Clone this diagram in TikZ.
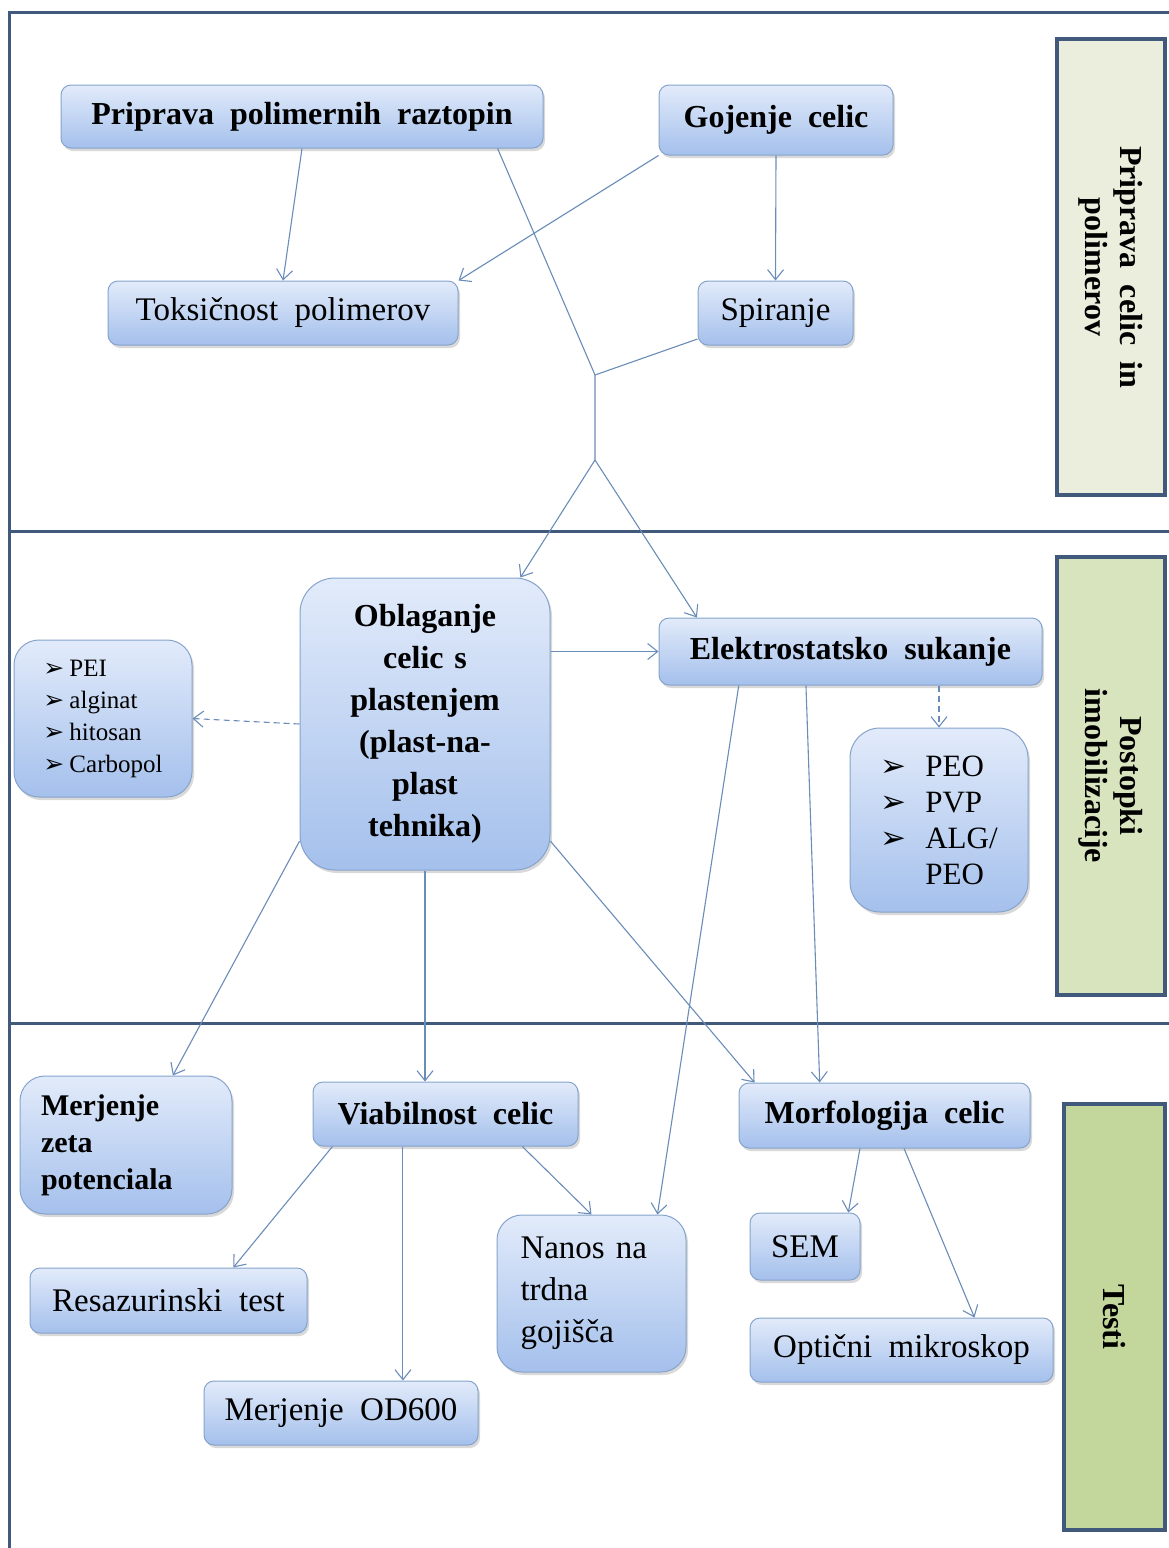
\documentclass[tikz,border=0pt]{standalone}
\usepackage{fontspec}
\setmainfont{Liberation Serif}
\newfontfamily\arrowfont{DejaVu Sans}
\usetikzlibrary{arrows.meta,calc,shadows}
\definecolor{frameblue}{HTML}{41597A}
\definecolor{linkblue}{HTML}{6A8CB8}
\definecolor{boxedge}{HTML}{86A3CB}
\definecolor{boxtop}{HTML}{E2EBFA}
\definecolor{boxbottom}{HTML}{A4C0EC}
\definecolor{bandA}{HTML}{EBEEDD}
\definecolor{bandB}{HTML}{D8E4BE}
\definecolor{bandC}{HTML}{C3D69B}
\newcommand{\nodefs}[2]{\fontsize{#1}{#2}\selectfont\spaceskip=.5em plus .1em\relax}
\newcommand{\bul}[1]{\makebox[#1][l]{\arrowfont ➢}}
\tikzset{
  plainbox/.style={draw=boxedge,line width=1pt,rounded corners=10pt,top color=boxtop,bottom color=boxbottom,
                   drop shadow={shadow xshift=2pt,shadow yshift=-3pt,opacity=.3},font=\nodefs{33}{42}},
  headbox/.style={plainbox,font=\nodefs{32}{42}\bfseries},
  listbox/.style={plainbox,align=left,rounded corners=25pt},
  band/.style={draw=frameblue,line width=4pt,rotate=-90,align=center,inner sep=0pt,
               font=\nodefs{32}{35}\bfseries},
  frame/.style={draw=frameblue,line width=3pt},
  link/.style={draw=linkblue,line width=1.1pt},
  arrow/.style={link,-{Straight Barb[length=10pt,width=16pt]}},
  dasharrow/.style={arrow,dash pattern=on 6pt off 4pt}
}
\begin{document}
\begin{tikzpicture}[x=1pt,y=-1pt]
\useasboundingbox (0,0) rectangle (1169,1548);
\draw[frame] (1169,12) -- (9,12) -- (9,1548);
\draw[frame] (9,531) -- (1169,531);
\draw[frame] (9,1023) -- (1169,1023);

\node[band,fill=bandA,minimum width=456pt,minimum height=108pt] (bandprep) at (1111,267) {Priprava celic in\\polimerov};
\node[band,fill=bandB,minimum width=438pt,minimum height=108pt] (bandimob) at (1111,776) {Postopki\\imobilizacije};
\node[band,fill=bandC,minimum width=426pt,minimum height=101pt] (bandtest) at (1114.5,1317) {Testi};

\node[headbox,minimum width=482pt,minimum height=63pt] (prip) at (302,116.5) {Priprava polimernih raztopin};
\node[headbox,minimum width=234pt,minimum height=70pt] (goj) at (776,120) {Gojenje celic};
\node[plainbox,minimum width=350pt,minimum height=64pt] (tox) at (283,313) {Toksičnost polimerov};
\node[plainbox,minimum width=155pt,minimum height=64pt] (spir) at (775.5,313) {Spiranje};
\coordinate (fork) at (595,375);
\coordinate (split) at (595,460);

\node[headbox,rounded corners=35pt,minimum width=250pt,minimum height=292pt,text width=228pt,align=center] (obl) at (425,724)
  {Oblaganje\\celic s\\plastenjem\\(plast-na-\\plast\\tehnika)};
\node[listbox,minimum width=178pt,minimum height=157pt,font=\nodefs{25}{32}] (polyA) at (103,718.5)
  {\bul{26pt}PEI\\\bul{26pt}alginat\\\bul{26pt}hitosan\\\bul{26pt}Carbopol};
\node[headbox,minimum width=383pt,minimum height=67pt] (elek) at (850.5,651.5) {Elektrostatsko sukanje};
\node[listbox,rounded corners=30pt,minimum width=178pt,minimum height=184pt,font=\nodefs{31}{36}] (polyB) at (939,820)
  {\bul{45pt}PEO\\\bul{45pt}PVP\\\bul{45pt}ALG/\\\hspace*{45pt}PEO};

\node[headbox,rounded corners=25pt,minimum width=212pt,minimum height=138pt,text width=170pt,align=left,font=\nodefs{30}{37}\bfseries] (zeta) at (126,1145)
  {Merjenje\\zeta\\potenciala};
\node[headbox,minimum width=265pt,minimum height=64pt] (viab) at (445.5,1114) {Viabilnost celic};
\node[headbox,minimum width=291pt,minimum height=65pt] (morf) at (884.5,1115.5) {Morfologija celic};
\node[plainbox,minimum width=277pt,minimum height=65pt] (resa) at (168.5,1300.5) {Resazurinski test};
\node[plainbox,minimum width=274pt,minimum height=64pt] (od) at (341,1413) {Merjenje OD600};
\node[plainbox,rounded corners=25pt,minimum width=189pt,minimum height=157pt,text width=142pt,align=left] (nanos) at (591.5,1293.5)
  {Nanos na\\trdna\\gojišča};
\node[plainbox,minimum width=110pt,minimum height=67pt] (sem) at (805,1246.5) {SEM};
\node[plainbox,minimum width=303pt,minimum height=64pt] (opt) at (901.5,1350) {Optični mikroskop};

\draw[arrow] (prip.south) -- (tox.north);
\draw[arrow] (goj.south west) -- (tox.north east);
\draw[arrow] (goj.south) -- (spir.north);
\draw[link] ($(prip.south west)!.905!(prip.south east)$) -- (fork);
\draw[link] ($(spir.west)!.8!(spir.south west)$) -- (fork) -- (split);
\draw[arrow] (split) -- ($(obl.north)!.76!(obl.north east)$);
\draw[arrow] (split) -- ($(elek.north west)!.1!(elek.north east)$);
\draw[dasharrow] (obl.west) -- (polyA.east);
\draw[arrow] (obl.east |- elek.west) -- (elek.west);
\draw[dasharrow] (polyB.north |- elek.south) -- (polyB.north);
\draw[arrow] ($(obl.south west)!.1!(obl.north west)$) -- ($(zeta.north west)!.72!(zeta.north east)$);
\draw[arrow] (obl.south) -- (obl.south |- viab.north);
\draw[arrow] ($(obl.south east)!.1!(obl.north east)$) -- ($(morf.north west)!.055!(morf.north east)$);
\draw[arrow] ($(elek.south west)!.209!(elek.south east)$) -- ($(nanos.north west)!.847!(nanos.north east)$);
\draw[arrow] ($(elek.south west)!.384!(elek.south east)$) -- ($(morf.north west)!.278!(morf.north east)$);
\draw[arrow] ($(viab.south west)!.075!(viab.south east)$) -- ($(resa.north west)!.733!(resa.north east)$);
\draw[arrow] ($(viab.south west)!.34!(viab.south east)$) coordinate (viabod) -- (viabod |- od.north);
\draw[arrow] ($(viab.south west)!.789!(viab.south east)$) -- (nanos.north);
\draw[arrow] ($(morf.south west)!.416!(morf.south east)$) -- ($(sem.north west)!.89!(sem.north east)$);
\draw[arrow] ($(morf.south west)!.567!(morf.south east)$) -- ($(opt.north west)!.74!(opt.north east)$);
\end{tikzpicture}
\end{document}
